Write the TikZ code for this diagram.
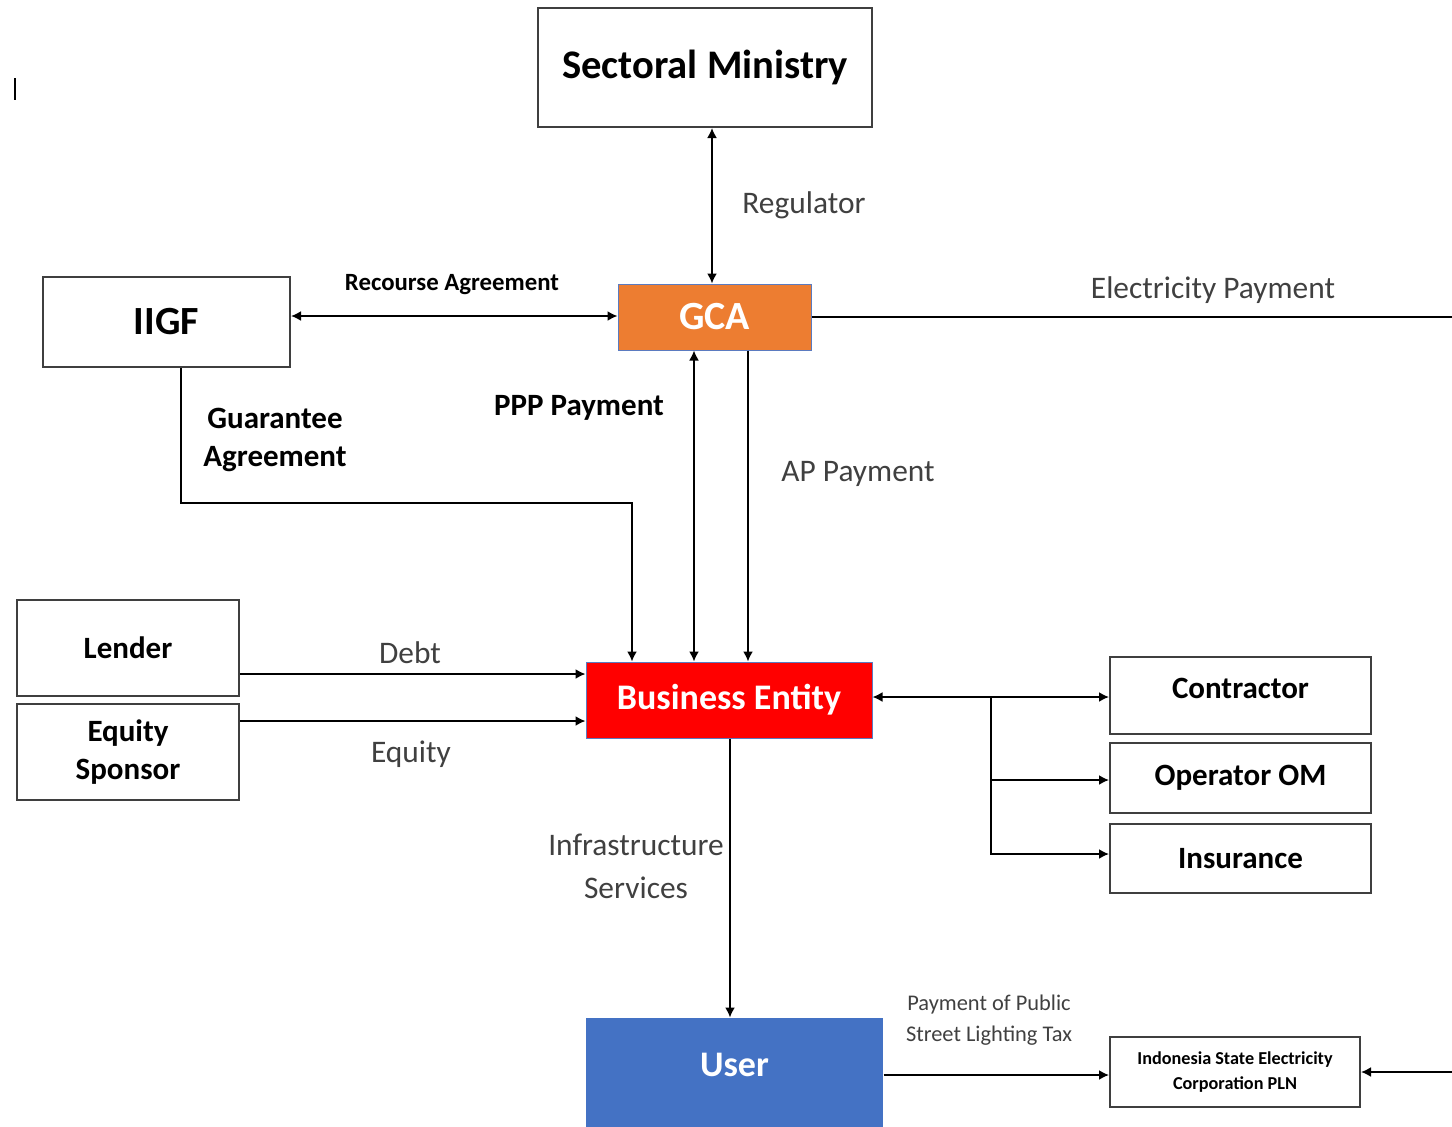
\documentclass[tikz,border=0pt]{standalone}
\usepackage{fontspec}
\setmainfont{Carlito}
\usetikzlibrary{arrows.meta}
\definecolor{boxgray}{HTML}{3F3F3F}
\definecolor{labgray}{HTML}{404040}
\definecolor{gcaorange}{HTML}{ED7D31}
\definecolor{userblue}{HTML}{4472C4}
\definecolor{edgeblue}{HTML}{5B7BC0}

\begin{document}
\begin{tikzpicture}[x=0.5pt,y=-0.5pt,
  box/.style={draw=boxgray,line width=1pt,fill=white,inner sep=0pt,align=center,font=\bfseries\fontsize{15.5}{19}\selectfont},
  colbox/.style={draw=edgeblue,line width=0.5pt,inner sep=0pt,text=white,font=\bfseries\fontsize{18}{22}\selectfont},
  lab/.style={inner sep=0pt,align=center,text=labgray,font=\fontsize{15.7}{19}\selectfont},
  blab/.style={inner sep=0pt,align=center,font=\bfseries\fontsize{15.5}{19}\selectfont},
  arr/.style={line width=0.9pt,-{Latex[length=5pt,width=5pt]}},
  darr/.style={line width=0.9pt,{Latex[length=5pt,width=5pt]}-{Latex[length=5pt,width=5pt]}}]
\useasboundingbox (0,0) rectangle (1452,1126);

\draw[line width=0.6pt] (15,78) -- (15,100);

\node[box,minimum width=167pt,minimum height=59.5pt,font=\bfseries\fontsize{20.3}{24}\selectfont] (sm) at (705,67.5) {Sectoral Ministry};
\node[colbox,fill=gcaorange,minimum width=96.5pt,minimum height=33pt,font=\bfseries\fontsize{20}{24}\selectfont] (gca) at (714.5,317) {GCA};
\node[box,minimum width=123.5pt,minimum height=45pt,font=\bfseries\fontsize{20}{24}\selectfont] (iigf) at (166.5,322) {IIGF};
\node[colbox,fill=red,minimum width=143pt,minimum height=38pt] (be) at (729,700) {Business Entity};
\node[box,minimum width=111pt,minimum height=48pt] (lender) at (128,648) {Lender};
\node[box,minimum width=111pt,minimum height=48pt] (eq) at (128,752) {Equity\\Sponsor};
\node[box,minimum width=130.5pt,minimum height=38.5pt,text depth=7.5pt] (con) at (1240.5,695.5) {Contractor};
\node[box,minimum width=130.5pt,minimum height=35pt] (op) at (1240.5,778) {Operator OM};
\node[box,minimum width=130.5pt,minimum height=34.5pt] (ins) at (1240.5,858.5) {Insurance};
\node[colbox,draw=none,fill=userblue,minimum width=148.5pt,minimum height=61pt,text depth=14pt] (user) at (734.5,1079) {User};
\node[box,minimum width=125pt,minimum height=35pt,font=\bfseries\fontsize{9.1}{12.5}\selectfont] (pln) at (1235,1072) {Indonesia State Electricity\\Corporation PLN};

\node[lab] (reg) at (804,205) {Regulator};
\node[blab,font=\bfseries\fontsize{12.4}{15}\selectfont] (rec) at (452,285) {Recourse Agreement};
\node[lab] (elec) at (1213,290) {Electricity Payment};
\node[blab] (guar) at (275,440) {Guarantee\\Agreement};
\node[blab] (ppp) at (579,408) {PPP Payment};
\node[lab] (ap) at (858,474) {AP Payment};
\node[lab] (debt) at (410,653) {Debt};
\node[lab] (eqty) at (411,754) {Equity};
\node[lab,font=\fontsize{15.7}{21.5}\selectfont] (infra) at (636,866) {Infrastructure\\Services};
\node[lab,font=\fontsize{11.2}{15.5}\selectfont] (pay) at (989,1020) {Payment of Public\\Street Lighting Tax};

\coordinate (edge) at (1500,0);
\coordinate (br) at (991,697);

\draw[darr] (sm.south -| 712,0) -- (gca.north -| 712,0);
\draw[darr] (iigf.east |- 0,316) -- (gca.west |- 0,316);
\draw[arr] (gca.east) -- (gca.east -| edge) |- (pln.east);
\draw[arr] (iigf.south -| 181,0) -- (181,503) -| (be.north -| 632,0);
\draw[darr] (be.north -| 694,0) -- (gca.south -| 694,0);
\draw[arr] (gca.south -| 748,0) -- (be.north -| 748,0);
\draw[arr] (lender.east |- 0,674) -- (be.west |- 0,674);
\draw[arr] (eq.east |- 0,721) -- (be.west |- 0,721);
\draw[darr] (be.east |- br) -- (con.west |- br);
\draw[arr] (br) |- (op.west |- 0,780);
\draw[arr] (br) |- (ins.west |- 0,854);
\draw[arr] (be.south -| 730,0) -- (user.north -| 730,0);
\draw[arr] (user.east |- 0,1075) -- (pln.west |- 0,1075);
\end{tikzpicture}
\end{document}
